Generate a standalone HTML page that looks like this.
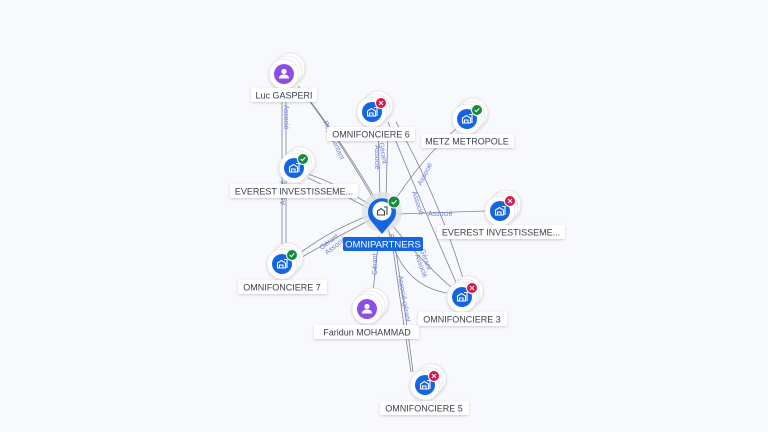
<!DOCTYPE html>
<html><head><meta charset="utf-8"><style>
html,body{margin:0;padding:0;background:#f8f9fc;}
svg{display:block;font-family:"Liberation Sans",sans-serif;}
.e{stroke:#7d8396;stroke-width:0.8;fill:none;}
.el{fill:#6b7fd6;font-size:7px;}
.lb{fill:#3a4050;font-size:9px;}
.st circle{stroke:#e3e5ea;stroke-width:0.8;}
</style></head><body>
<svg width="768" height="432" viewBox="0 0 768 432" xmlns="http://www.w3.org/2000/svg">
<defs>
<filter id="sh" x="-50%" y="-50%" width="200%" height="200%"><feDropShadow dx="0" dy="1" stdDeviation="1.2" flood-color="#000" flood-opacity="0.18"/></filter>
<g id="bld"><path d="M-4.5,4 V-1 L-0.5,-3.5 L3.5,-1 V4 Z M-2.5,4 V1 H1 V4 M2,-4.5 H5 V4" fill="none" stroke="#fff" stroke-width="1.1"/></g>
<g id="per"><circle cx="0" cy="-2.5" r="2.6" fill="#fff"/><path d="M-5,4.5 Q-5,0.5 0,0.5 Q5,0.5 5,4.5 Z" fill="#fff"/></g>
</defs>
<rect width="768" height="432" fill="#f8f9fc"/>

<path class="e" d="M298,86 Q340,140 374,200"/>
<path class="e" d="M300,88 Q345,145 377,202"/>
<line class="e" x1="282" y1="92" x2="282" y2="255"/>
<line class="e" x1="286" y1="92" x2="286" y2="255"/>
<path class="e" d="M308,174 Q340,185 370,205"/>
<path class="e" d="M308,178 Q345,195 371,210"/>
<path class="e" d="M378,128 L380,198"/>
<path class="e" d="M388,128 L386,198"/>
<path class="e" d="M388,122 Q420,200 458,287"/>
<path class="e" d="M396,122 Q440,200 465,285"/>
<path class="e" d="M457,128 Q420,160 392,205"/>
<line class="e" x1="397" y1="214" x2="486" y2="211"/>
<path class="e" d="M297,260 Q340,235 370,220"/>
<path class="e" d="M296,256 Q330,230 368,216"/>
<line class="e" x1="373" y1="292" x2="379" y2="236"/>
<path class="e" d="M447,293 Q400,285 388,228"/>
<path class="e" d="M452,288 Q420,260 392,225"/>
<path class="e" d="M411,372 Q400,300 391,234"/>
<path class="e" d="M413,372 Q404,300 393,234"/>

<text class="el" transform="translate(284,105) rotate(90)">Associé</text>
<text class="el" transform="translate(285,205) rotate(-90)">Associé</text>
<text class="el" transform="translate(323,122) rotate(65)">Représentant</text>
<text class="el" transform="translate(375,145) rotate(90)">Associé</text>
<text class="el" transform="translate(379,143) rotate(80)">Gérant</text>
<text class="el" transform="translate(421,186) rotate(-62)">Associé</text>
<text class="el" x="428" y="216">Associé</text>
<text class="el" transform="translate(412,192) rotate(72)">Associé</text>
<text class="el" transform="translate(322,250) rotate(-38)">Gérant</text>
<text class="el" transform="translate(327,255) rotate(-38)">Associé</text>
<text class="el" transform="translate(377,275) rotate(-90)">Gérant</text>
<text class="el" transform="translate(420,250) rotate(70)">Gérant</text>
<text class="el" transform="translate(415,255) rotate(70)">Associé</text>
<text class="el" transform="translate(398,276) rotate(80)">Associé-gérant</text>

<circle cx="382" cy="212" r="20" fill="#dfe1e6" opacity="0.8"/>
<path d="M382,234 L372,222 A14,14 0 1,1 392,222 Z" fill="#1565e0"/>
<circle cx="382" cy="211" r="9.5" fill="#fff"/>
<path d="M377.5,215 V211 L381,208.5 L384.5,211 V215 Z M384,207 H387 V215" fill="none" stroke="#444" stroke-width="1.1"/>
<circle cx="394" cy="202" r="6" fill="#178a3c" stroke="#fff" stroke-width="1"/>
<path d="M391.5,202 l1.8,1.8 l3.2,-3.4" stroke="#fff" stroke-width="1.1" fill="none"/>
<rect x="343" y="237" width="80" height="14" rx="2" fill="#1565e0"/>
<text x="383" y="247.5" text-anchor="middle" fill="#fff" font-size="9.5">OMNIPARTNERS</text>

<g class="st" filter="url(#sh)"><circle cx="290" cy="68" r="15" fill="#fff"/><circle cx="287" cy="71" r="15" fill="#fff"/><circle cx="284" cy="74" r="15" fill="#fff"/></g>
<circle cx="284" cy="74" r="10" fill="#8b4fe8"/><use href="#per" x="284" y="74"/>
<rect x="251" y="88" width="66" height="14" rx="2" fill="#fff" filter="url(#sh)"/><text class="lb" x="284" y="98.5" text-anchor="middle">Luc GASPERI</text>

<g class="st" filter="url(#sh)"><circle cx="378" cy="106" r="15" fill="#fff"/><circle cx="375" cy="109" r="15" fill="#fff"/><circle cx="372" cy="112" r="15" fill="#fff"/></g>
<circle cx="372" cy="112" r="10" fill="#1565e0"/><use href="#bld" x="372" y="112"/>
<circle cx="381" cy="103" r="5.5" fill="#d8184a" stroke="#fff"/><path d="M379,101 l4,4 M383,101 l-4,4" stroke="#fff" stroke-width="1"/>
<rect x="327" y="127" width="88" height="14" rx="2" fill="#fff" filter="url(#sh)"/><text class="lb" x="371" y="137.5" text-anchor="middle">OMNIFONCIERE 6</text>

<g class="st" filter="url(#sh)"><circle cx="473" cy="113" r="15" fill="#fff"/><circle cx="470" cy="116" r="15" fill="#fff"/><circle cx="467" cy="119" r="15" fill="#fff"/></g>
<circle cx="467" cy="119" r="10" fill="#1565e0"/><use href="#bld" x="467" y="119"/>
<circle cx="477" cy="110" r="5.5" fill="#178a3c" stroke="#fff"/><path d="M474.7,110 l1.6,1.6 l3,-3.2" stroke="#fff" stroke-width="1" fill="none"/>
<rect x="421" y="134" width="93" height="14" rx="2" fill="#fff" filter="url(#sh)"/><text class="lb" x="467" y="144.5" text-anchor="middle">METZ METROPOLE</text>

<g class="st" filter="url(#sh)"><circle cx="300" cy="162" r="15" fill="#fff"/><circle cx="297" cy="165" r="15" fill="#fff"/><circle cx="294" cy="168" r="15" fill="#fff"/></g>
<circle cx="294" cy="168" r="10" fill="#1565e0"/><use href="#bld" x="294" y="168"/>
<circle cx="303" cy="159" r="5.5" fill="#178a3c" stroke="#fff"/><path d="M300.7,159 l1.6,1.6 l3,-3.2" stroke="#fff" stroke-width="1" fill="none"/>
<rect x="230" y="184" width="128" height="14" rx="2" fill="#fff" filter="url(#sh)"/><text class="lb" x="294" y="194.5" text-anchor="middle">EVEREST INVESTISSEME...</text>

<g class="st" filter="url(#sh)"><circle cx="506" cy="205" r="15" fill="#fff"/><circle cx="503" cy="208" r="15" fill="#fff"/><circle cx="500" cy="211" r="15" fill="#fff"/></g>
<circle cx="500" cy="211" r="10" fill="#1565e0"/><use href="#bld" x="500" y="211"/>
<circle cx="510" cy="201" r="5.5" fill="#d8184a" stroke="#fff"/><path d="M508,199 l4,4 M512,199 l-4,4" stroke="#fff" stroke-width="1"/>
<rect x="437" y="225" width="128" height="14" rx="2" fill="#fff" filter="url(#sh)"/><text class="lb" x="501" y="235.5" text-anchor="middle">EVEREST INVESTISSEME...</text>

<g class="st" filter="url(#sh)"><circle cx="288" cy="258" r="15" fill="#fff"/><circle cx="285" cy="261" r="15" fill="#fff"/><circle cx="282" cy="264" r="15" fill="#fff"/></g>
<circle cx="282" cy="264" r="10" fill="#1565e0"/><use href="#bld" x="282" y="264"/>
<circle cx="292" cy="255" r="5.5" fill="#178a3c" stroke="#fff"/><path d="M289.7,255 l1.6,1.6 l3,-3.2" stroke="#fff" stroke-width="1" fill="none"/>
<rect x="238" y="280" width="89" height="14" rx="2" fill="#fff" filter="url(#sh)"/><text class="lb" x="282" y="290.5" text-anchor="middle">OMNIFONCIERE 7</text>

<g class="st" filter="url(#sh)"><circle cx="373" cy="303" r="15" fill="#fff"/><circle cx="370" cy="306" r="15" fill="#fff"/><circle cx="367" cy="309" r="15" fill="#fff"/></g>
<circle cx="367" cy="309" r="10" fill="#8b4fe8"/><use href="#per" x="367" y="309"/>
<rect x="314" y="325" width="105" height="14" rx="2" fill="#fff" filter="url(#sh)"/><text class="lb" x="367" y="335.5" text-anchor="middle">Faridun MOHAMMAD</text>

<g class="st" filter="url(#sh)"><circle cx="468" cy="291" r="15" fill="#fff"/><circle cx="465" cy="294" r="15" fill="#fff"/><circle cx="462" cy="297" r="15" fill="#fff"/></g>
<circle cx="462" cy="297" r="10" fill="#1565e0"/><use href="#bld" x="462" y="297"/>
<circle cx="472" cy="288" r="5.5" fill="#d8184a" stroke="#fff"/><path d="M470,286 l4,4 M474,286 l-4,4" stroke="#fff" stroke-width="1"/>
<rect x="418" y="312" width="89" height="14" rx="2" fill="#fff" filter="url(#sh)"/><text class="lb" x="462" y="322.5" text-anchor="middle">OMNIFONCIERE 3</text>

<g class="st" filter="url(#sh)"><circle cx="431" cy="379" r="15" fill="#fff"/><circle cx="428" cy="382" r="15" fill="#fff"/><circle cx="425" cy="385" r="15" fill="#fff"/></g>
<circle cx="425" cy="385" r="10" fill="#1565e0"/><use href="#bld" x="425" y="385"/>
<circle cx="434" cy="376" r="5.5" fill="#d8184a" stroke="#fff"/><path d="M432,374 l4,4 M436,374 l-4,4" stroke="#fff" stroke-width="1"/>
<rect x="380" y="401" width="89" height="14" rx="2" fill="#fff" filter="url(#sh)"/><text class="lb" x="424" y="411.5" text-anchor="middle">OMNIFONCIERE 5</text>
</svg>
</body></html>
